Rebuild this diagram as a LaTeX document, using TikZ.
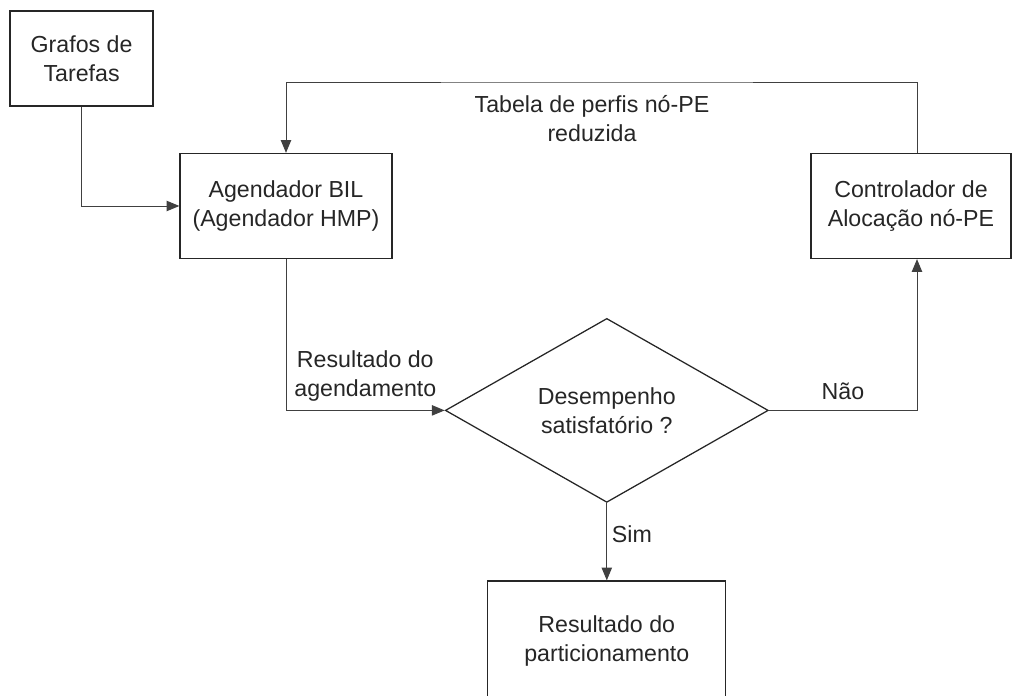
\documentclass[tikz,border=0pt]{standalone}
\usepackage{fontspec}
\setmainfont{Liberation Sans}
\usetikzlibrary{shapes.geometric,arrows.meta}

\begin{document}
\begin{tikzpicture}[
	>={Triangle[length=3.2mm,width=2.6mm]},
	every node/.style={font=\fontsize{16.5}{20.6}\selectfont, text=black!85},
	bloco/.style={draw=black!85, line width=0.9pt, align=center, inner sep=0pt},
	decisao/.style={draw=black!85, line width=0.9pt, align=center, shape=diamond, inner sep=0pt, minimum width=8.075cm, minimum height=4.075cm},
	seta/.style={->, draw=black!75, line width=0.7pt},
	rotulo/.style={align=center}]

	\useasboundingbox (0,0) rectangle (25.3,17.4);
	\clip (0,0) rectangle (25.3,17.4);

	\node[bloco, minimum width=3.575cm, minimum height=2.375cm] (grafos) at (2.04,15.94) {Grafos de\\Tarefas};
	\node[bloco, minimum width=5.3cm, minimum height=2.625cm] (agend) at (7.15,12.25) {Agendador BIL\\(Agendador HMP)};
	\node[bloco, minimum width=5cm, minimum height=2.625cm] (contr) at (22.775,12.25) {Controlador de\\Aloca\c{c}\~ao n\'o-PE};
	\node[decisao] (decis) at (15.17,7.14) {Desempenho\\satisfat\'orio ?};
	\node[bloco, minimum width=5.95cm, minimum height=3cm] (result) at (15.17,1.375) {Resultado do\\particionamento};
	\coordinate (topo) at (14.8,15.35);

	\draw[seta] (grafos.south) |- (agend.west);
	\draw[seta] (agend.south) |- node[rotulo, pos=0.75, above, yshift=3pt] {Resultado do\\agendamento} (decis.west);
	\draw[seta] (decis.east) -| node[pos=0.25, above, yshift=4pt] {N\~ao} ([xshift=0.15cm]contr.south);
	\draw[seta] (decis.south) -- node[pos=0.4, right] {Sim} (result.north);
	\draw[seta] ([xshift=0.15cm]contr.north) |- (topo) -| (agend.north);
	\node[rotulo, below=6pt] (tabela) at (topo) {Tabela de perfis n\'o-PE\\reduzida};
\end{tikzpicture}
\end{document}
